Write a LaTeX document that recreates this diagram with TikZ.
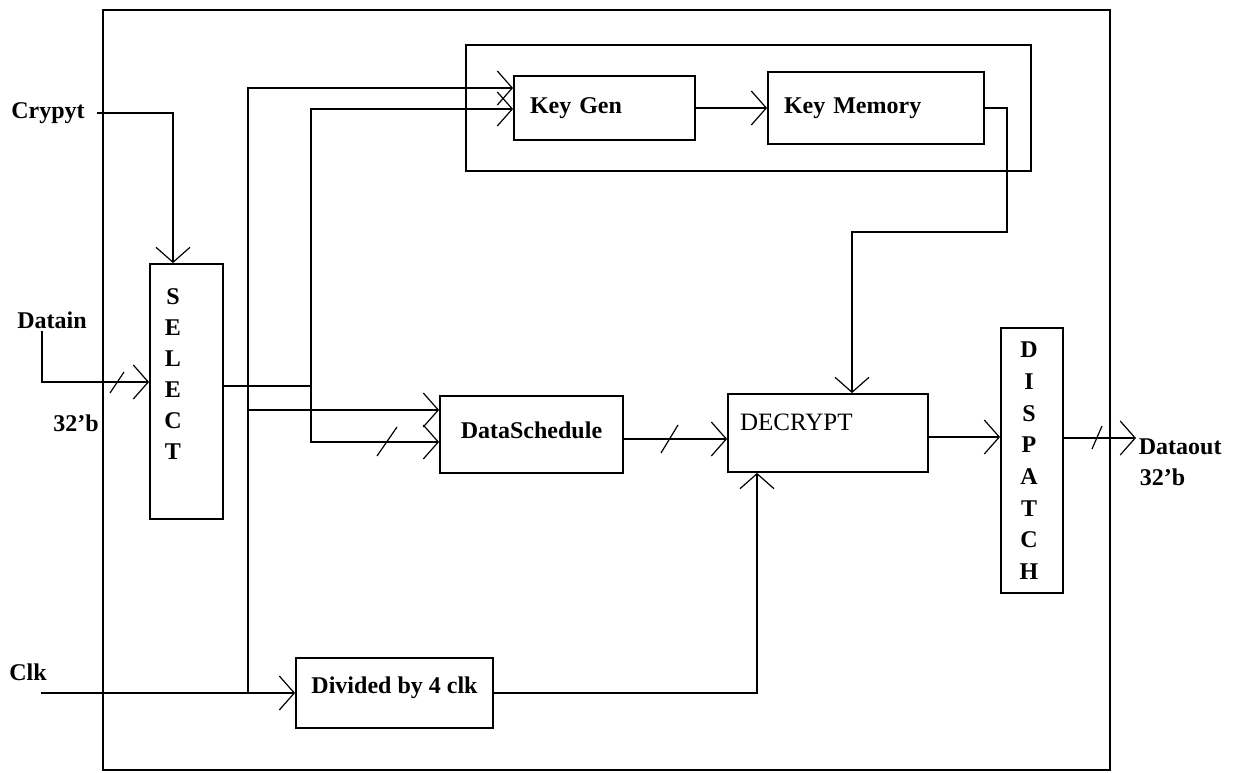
\documentclass[tikz,border=0pt]{standalone}
\usepackage{fontspec}
\setmainfont{Liberation Serif}
\usetikzlibrary{arrows.meta}
\begin{document}
\begin{tikzpicture}[x=1pt,y=-1pt,
  line width=1.8pt,
  every node/.style={font=\fontsize{24}{31}\selectfont},
  blk/.style={draw, rectangle, line width=1.8pt, inner sep=0pt},
  bf/.style={font=\fontsize{24}{31}\selectfont\bfseries},
  txt/.style={bf, inner sep=2pt},
  arr/.style={-{Straight Barb[length=15pt,width=34pt,line width=1.2pt]}},
  busmark/.style={line width=1.2pt},
]
\useasboundingbox (0,0) rectangle (1237,773);
\fill[white] (0,0) rectangle (1237,773);

% frames
\draw (103,10) rectangle (1110,770);
\draw (466,45) rectangle (1031,171);

% blocks
\node[blk, minimum width=73pt, minimum height=255pt,
  label={[txt, align=center, anchor=north, xshift=-13.5pt, yshift=-22.7pt]north:{S\\E\\L\\E\\C\\T}}]
  (select) at (186.5,391.5) {};
\node[blk, bf, minimum width=181pt, minimum height=64pt, text width=149pt, inner xsep=16pt, align=left]
  (keygen) at (604.5,108) {Key Gen};
\node[blk, bf, minimum width=216pt, minimum height=72pt, text width=184pt, inner xsep=16pt, align=left]
  (keymem) at (876,108) {Key Memory};
\node[blk, bf, minimum width=183pt, minimum height=77pt, text depth=9pt]
  (datasch) at (531.5,434.5) {DataSchedule};
\node[blk, font=\fontsize{25}{31}\selectfont, minimum width=200pt, minimum height=78pt, text width=176pt, inner xsep=12pt, align=left, text depth=22pt]
  (decrypt) at (828,433) {DECRYPT};
\node[blk, minimum width=62pt, minimum height=265pt,
  label={[txt, font=\fontsize{24}{31.7}\selectfont\bfseries, align=center, anchor=north, xshift=-3pt, yshift=-12pt]north:{D\\I\\S\\P\\A\\T\\C\\H}}]
  (dispatch) at (1032,460.5) {};
\node[blk, bf, minimum width=197pt, minimum height=70pt, text depth=16pt]
  (divided) at (394.5,693) {Divided by 4 clk};

% texts
\node[txt] (crypyt) at (48,113) {Crypyt};
\node[txt] (datain) at (52,320) {Datain};
\node[txt] (inbits) at (76,423) {32'b};
\node[txt] (clk) at (28,672) {Clk};
\node[txt, anchor=west] (dataout) at (1136,447) {Dataout};
\node[txt, anchor=west] (outbits) at (1137,477) {32'b};

% coordinates
\coordinate (jsel) at (311,386);
\coordinate (clkin) at (41,693);
\coordinate (jclk) at (248,693);
\coordinate (kmbend) at (1007,232);
\coordinate (dsin1) at ([yshift=24.5pt]datasch.west);
\coordinate (dsout) at ([yshift=-4.5pt]datasch.east);
\coordinate (dcout) at ([yshift=-4pt]decrypt.east);
\coordinate (dpout) at ([yshift=22.5pt]dispatch.east);

% connectors
\draw[arr] ([xshift=9pt]crypyt.east) -| ([xshift=-13.5pt]select.north);
\draw[arr] ([xshift=-10pt]datain.south) |- ([yshift=9.5pt]select.west);
\draw[busmark] (110,393) -- (124,372);

\draw ([yshift=5.5pt]select.east) -- (jsel);
\draw[arr] (jsel) |- ([yshift=-1pt]keygen.west);
\draw[arr] (jsel) |- ([yshift=-7.5pt]datasch.west);
\draw[busmark] (377,456) -- (397,427);

\draw[arr] (clkin) -- (divided.west);
\draw[arr] (jclk) |- ([yshift=20pt]keygen.west);
\draw[arr] (jclk |- dsin1) -- (dsin1);

\draw[arr] (divided.east) -| ([xshift=-71pt]decrypt.south);
\draw[arr] (dsout) -- (dsout -| decrypt.west);
\draw[busmark] (661,453) -- (678,425);

\draw[arr] (keygen.east) -- (keygen.east -| keymem.west);
\draw[arr] (keymem.east) -| (kmbend) -| ([xshift=24pt]decrypt.north);

\draw[arr] (dcout) -- (dcout -| dispatch.west);
\draw[arr] (dpout) -- (dpout -| dataout.west);
\draw[busmark] (1092,449) -- (1102,426);
\end{tikzpicture}
\end{document}
